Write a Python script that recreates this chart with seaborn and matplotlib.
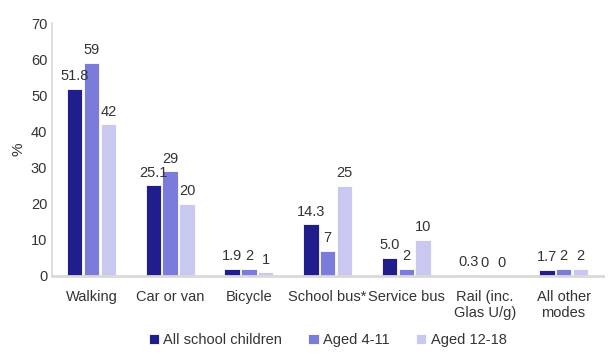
import pandas as pd
import seaborn as sns
import matplotlib.pyplot as plt

modes = ['Walking', 'Car or van', 'Bicycle', 'School bus*', 'Service bus',
         'Rail (inc.\nGlas U/g)', 'All other\nmodes']
all_children = [51.8, 25.1, 1.9, 14.3, 5.0, 0.3, 1.7]
aged_4_11 = [59, 29, 2, 7, 2, 0, 2]
aged_12_18 = [42, 20, 1, 25, 10, 0, 2]
series = ['All school children', 'Aged 4-11', 'Aged 12-18']
colors = ['#201E8C', '#7B7BDB', '#C8C8F0']

df = pd.DataFrame({'mode': modes * 3,
                   'value': all_children + aged_4_11 + aged_12_18,
                   'group': [s for s in series for _ in modes]})

sns.set_theme(style='white')
plt.rcParams['font.family'] = ['Liberation Sans', 'DejaVu Sans']

fig, ax = plt.subplots(figsize=(6.14, 3.55), dpi=100)
fig.subplots_adjust(left=0.085, right=0.982, bottom=0.223, top=0.935)

sns.barplot(data=df, x='mode', y='value', hue='group', palette=colors,
            saturation=1, width=0.64, gap=0.08, edgecolor='white',
            linewidth=0.6, ax=ax)

# data labels: first series with one decimal, others integer
fmts = ['{:.1f}', '{:.0f}', '{:.0f}']
for cont, fmt in zip(ax.containers, fmts):
    ax.bar_label(cont, labels=[fmt.format(v) for v in cont.datavalues],
                 padding=4, fontsize=10.5, color='#333333')

ax.set_ylim(0, 70)
ax.set_yticks(range(0, 71, 10))
ax.set_xlim(-0.5, len(modes) - 0.5)
ax.set_xlabel('')
ax.set_ylabel('%', fontsize=11, color='#333333')
ax.tick_params(axis='both', labelsize=10.5, colors='#333333', length=0)
ax.tick_params(axis='x', pad=10)

for side in ['top', 'right']:
    ax.spines[side].set_visible(False)
ax.spines['left'].set_color('#D9D9D9')
ax.spines['bottom'].set_color('#D9D9D9')
ax.spines['bottom'].set_linewidth(2)

ax.legend(title=None, loc='lower center', bbox_to_anchor=(0.5, -0.335), ncol=3,
          frameon=False, fontsize=10.5, handlelength=0.7, handleheight=0.7,
          handletextpad=0.3, columnspacing=1.8, labelcolor='#333333')

fig.savefig('out.png', dpi=100)
